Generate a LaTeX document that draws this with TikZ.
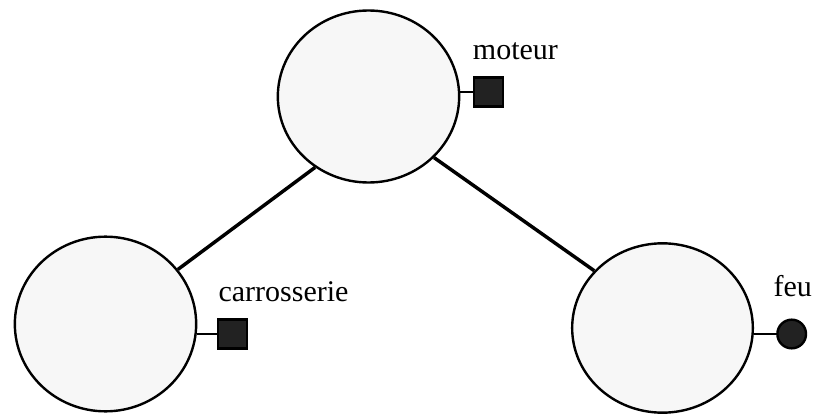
\documentclass[tikz,border=0pt]{standalone}
\usepackage{fontspec}
\setmainfont{Liberation Serif}
\usetikzlibrary{shapes.geometric}
\definecolor{bubble}{HTML}{F7F7F7}
\definecolor{port}{HTML}{222222}
\begin{document}
\begin{tikzpicture}[x=0.75pt,y=-0.75pt,
  comp/.style={ellipse,draw=black,line width=1.8pt,fill=bubble,inner sep=0pt},
  sqport/.style={rectangle,draw=black,line width=1.8pt,fill=port,minimum size=22pt,inner sep=0pt},
  dotport/.style={circle,draw=black,line width=1.8pt,fill=port,minimum size=21.5pt,inner sep=0pt},
  link/.style={line width=2.6pt},
  stub/.style={line width=2.2pt},
  lbl/.style={anchor=base west,inner sep=0pt,font=\fontsize{22.5}{26}\selectfont}]
\useasboundingbox (0,0) rectangle (815,414);
\node[comp,minimum width=136pt,minimum height=129pt] (moteur) at (368.5,96.5) {};
\node[comp,minimum width=136pt,minimum height=131pt] (carr) at (105.5,324) {};
\node[comp,minimum width=135.5pt,minimum height=127pt] (feu) at (662.5,328) {};
\node[sqport] (pm) at (488.5,92) {};
\node[sqport] (pc) at (232.5,334) {};
\node[dotport] (pf) at (791.7,334) {};
\draw[stub] (pm.west) -- (pm.west -| moteur.east);
\draw[stub] (pc.west) -- (pc.west -| carr.east);
\draw[stub] (pf.west) -- (pf.west -| feu.east);
\draw[link] (moteur.233) -- (carr.37.6);
\draw[link] (moteur.-43) -- (feu.140.8);
\node[lbl] (tm) at (472.7,60) {moteur};
\node[lbl] (tc) at (218.3,301.7) {carrosserie};
\node[lbl] (tf) at (773.3,296.7) {feu};
\end{tikzpicture}
\end{document}
